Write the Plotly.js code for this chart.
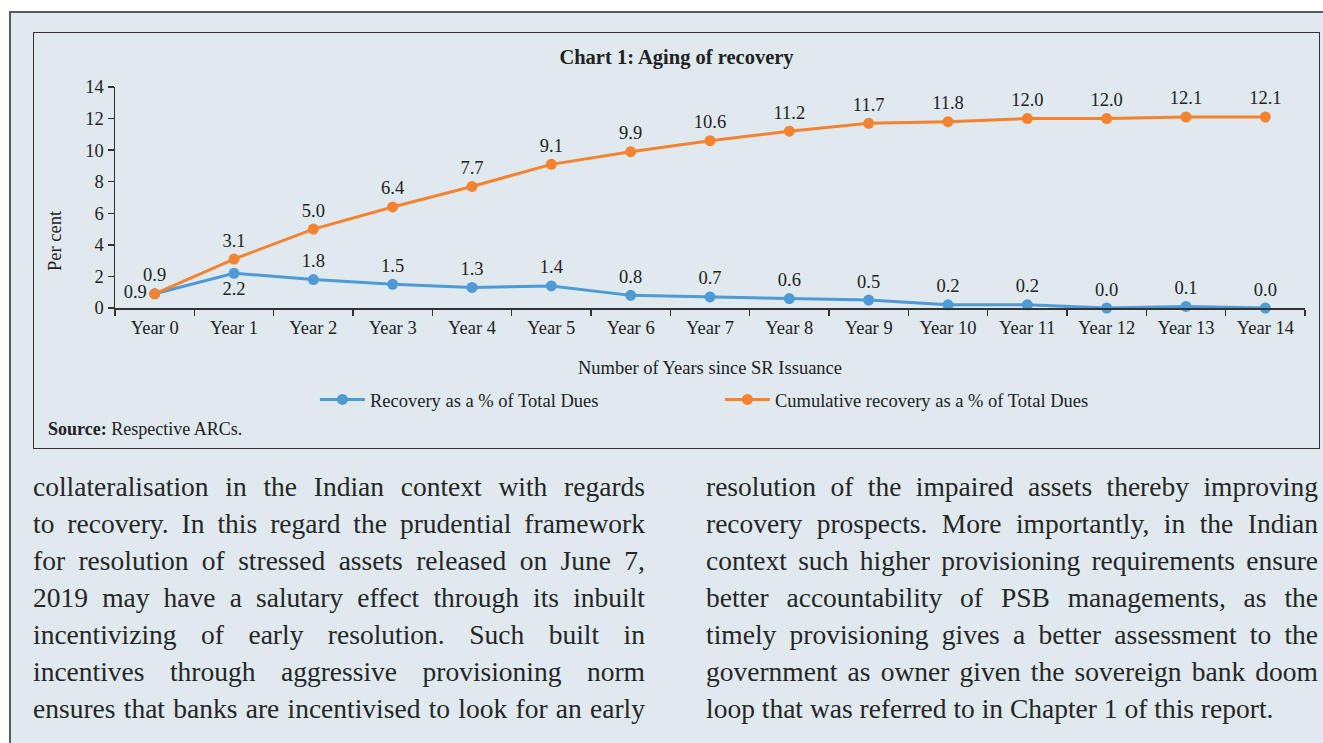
<!DOCTYPE html>
<html>
<head>
<meta charset="utf-8">
<script src="https://cdn.plot.ly/plotly-3.0.1.min.js"></script>
<style>
  html, body { margin: 0; padding: 0; background: #ffffff; width: 1323px; height: 743px; overflow: hidden; }
  #page {
    position: absolute; left: 9px; top: 11px; width: 1340px; height: 760px;
    background: #dfe9ee; border: 2px solid #5a5a5a; box-sizing: border-box;
  }
  #frame {
    position: absolute; left: 33px; top: 32px; width: 1287px; height: 417px;
    border: 1.5px solid #333333; box-sizing: border-box;
  }
  #chart { position: absolute; left: 34px; top: 33px; width: 1285px; height: 415px; }
  #source {
    position: absolute; left: 48px; top: 417px; font-family: "Liberation Serif", serif;
    font-size: 18px; color: #222222; line-height: 24px; white-space: nowrap;
  }
  .col {
    position: absolute; top: 468px; width: 612px;
    font-family: "Liberation Serif", serif; font-size: 27.5px; color: #262626; line-height: 37px;
  }
  .col div { text-align: justify; text-align-last: justify; white-space: nowrap; }
  .col div.last { text-align-last: left; }
</style>
</head>
<body>
<div id="page"></div>
<div id="frame"></div>
<div id="chart"></div>
<div id="source"><b>Source:</b> Respective ARCs.</div>
<div class="col" id="colLeft" style="left:33px"></div>
<div class="col" id="colRight" style="left:706px"></div>
<script>
// Years since SR issuance
const years = ["Year 0", "Year 1", "Year 2", "Year 3", "Year 4", "Year 5", "Year 6", "Year 7",
               "Year 8", "Year 9", "Year 10", "Year 11", "Year 12", "Year 13", "Year 14"];
// Recovery as a % of total dues, per year
const recovery = [0.9, 2.2, 1.8, 1.5, 1.3, 1.4, 0.8, 0.7, 0.6, 0.5, 0.2, 0.2, 0.0, 0.1, 0.0];
// Cumulative recovery as a % of total dues
const cumulative = [0.9, 3.1, 5.0, 6.4, 7.7, 9.1, 9.9, 10.6, 11.2, 11.7, 11.8, 12.0, 12.0, 12.1, 12.1];

const yTicks = [0, 2, 4, 6, 8, 10, 12, 14];

const leftLines = [
  "collateralisation in the Indian context with regards",
  "to recovery. In this regard the prudential framework",
  "for resolution of stressed assets released on June 7,",
  "2019 may have a salutary effect through its inbuilt",
  "incentivizing of early resolution. Such built in",
  "incentives through aggressive provisioning norm",
  "ensures that banks are incentivised to look for an early"
];
const rightLines = [
  "resolution of the impaired assets thereby improving",
  "recovery prospects. More importantly, in the Indian",
  "context such higher provisioning requirements ensure",
  "better accountability of PSB managements, as the",
  "timely provisioning gives a better assessment to the",
  "government as owner given the sovereign bank doom",
  "loop that was referred to in Chapter 1 of this report."
];

function fillColumn(id, lines, lastIsEnd) {
  const el = document.getElementById(id);
  lines.forEach((t, i) => {
    const d = document.createElement("div");
    d.textContent = t;
    if (lastIsEnd && i === lines.length - 1) d.className = "last";
    el.appendChild(d);
  });
}
fillColumn("colLeft", leftLines, false);
fillColumn("colRight", rightLines, true);

const FONT = "Liberation Serif, serif";
const INK = "#222222";
const BLUE = "#4d9ad6";
const ORANGE = "#f4822e";
const fmt = v => v.toFixed(1);

const bluePos = recovery.map((v, i) => i === 0 ? "middle left" : (i === 1 ? "bottom center" : "top center"));

const traces = [
  {
    x: years, y: recovery, type: "scatter", mode: "lines+markers+text",
    name: "Recovery as a % of Total Dues",
    line: { color: BLUE, width: 3 },
    marker: { color: BLUE, size: 11 },
    text: recovery.map(fmt), textposition: bluePos,
    textfont: { family: FONT, size: 18.5, color: INK },
    cliponaxis: false, hoverinfo: "x+y"
  },
  {
    x: years, y: cumulative, type: "scatter", mode: "lines+markers+text",
    name: "Cumulative recovery as a % of Total Dues",
    line: { color: ORANGE, width: 3 },
    marker: { color: ORANGE, size: 11 },
    text: cumulative.map(fmt), textposition: "top center",
    textfont: { family: FONT, size: 18.5, color: INK },
    cliponaxis: false, hoverinfo: "x+y"
  }
];

const layout = {
  width: 1285, height: 415,
  margin: { l: 81, r: 14, t: 54, b: 140, pad: 0 },
  paper_bgcolor: "rgba(0,0,0,0)",
  plot_bgcolor: "rgba(0,0,0,0)",
  font: { family: FONT, size: 18.5, color: INK },
  title: {
    text: "<b>Chart 1: Aging of recovery</b>",
    font: { family: FONT, size: 20.5, color: INK },
    x: 0.5, xanchor: "center", xref: "container",
    y: 1 - 24 / 415, yanchor: "middle", yref: "container"
  },
  xaxis: {
    type: "category", range: [-0.5, 14.5], tickson: "boundaries",
    ticks: "outside", ticklen: 6, tickwidth: 1.5, tickcolor: "#333333",
    showline: true, linecolor: "#333333", linewidth: 1.5,
    showgrid: false, zeroline: false, ticklabelstandoff: 2,
    tickfont: { family: FONT, size: 18.5, color: INK },
    title: { text: "Number of Years since SR Issuance", standoff: 24,
             font: { family: FONT, size: 18.5, color: INK } }
  },
  yaxis: {
    range: [0, 14], tickvals: yTicks, ticktext: yTicks.map(String),
    ticks: "outside", ticklen: 6, tickwidth: 1.5, tickcolor: "#333333",
    showline: true, linecolor: "#333333", linewidth: 1.5,
    showgrid: false, zeroline: false,
    tickfont: { family: FONT, size: 18.5, color: INK }
  },
  annotations: [{
    text: "Per cent", textangle: -90, showarrow: false,
    xref: "paper", yref: "paper", x: -0.0504, y: 0.303,
    xanchor: "center", yanchor: "middle",
    font: { family: FONT, size: 18.5, color: INK }
  }],
  showlegend: true,
  legend: {
    orientation: "h", x: 0.168, xanchor: "left", y: -0.416, yanchor: "middle",
    entrywidth: 345, entrywidthmode: "pixels", itemwidth: 45,
    bgcolor: "rgba(0,0,0,0)", font: { family: FONT, size: 18.5, color: INK }
  }
};

Plotly.newPlot("chart", traces, layout, { displayModeBar: false, staticPlot: true });
</script>
</body>
</html>
